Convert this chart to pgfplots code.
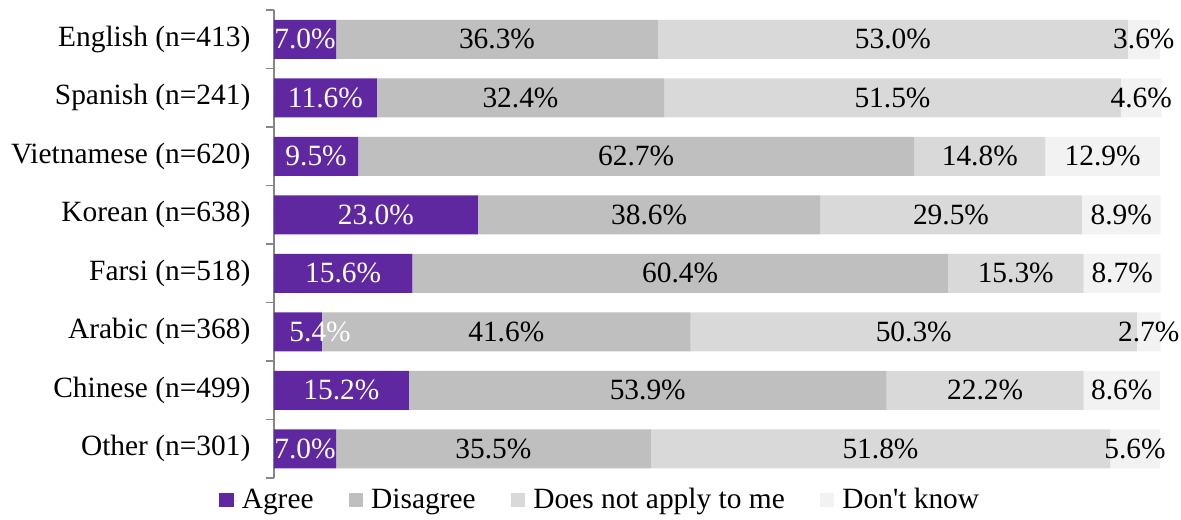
\documentclass[border=0pt]{standalone}
\usepackage{pgfplots}
\pgfplotsset{compat=1.18}
\usepackage{pgfplotstable}
\usepackage{fontspec}
\setmainfont{Liberation Serif}
\definecolor{cAgree}{HTML}{6028A0}
\definecolor{cDis}{HTML}{BFBFBF}
\definecolor{cNA}{HTML}{D9D9D9}
\definecolor{cDK}{HTML}{F2F2F2}
\definecolor{axisgray}{HTML}{868686}
% ap = position of the Agree label
\pgfplotstableread{
y a d n k ap
0 7.0 36.3 53.0 3.6 3.5
1 11.6 32.4 51.5 4.6 5.8
2 9.5 62.7 14.8 12.9 4.75
3 23.0 38.6 29.5 8.9 11.5
4 15.6 60.4 15.3 8.7 7.8
5 5.4 41.6 50.3 2.7 5.2
6 15.2 53.9 22.2 8.6 7.6
7 7.0 35.5 51.8 5.6 3.5
}\datatable
\newcommand{\fs}{\rmfamily\fontsize{14.7}{17}\selectfont}
\begin{document}
\begin{tikzpicture}
\begin{axis}[
  scale only axis, width=443.35pt, height=234pt,
  xbar stacked, bar width=19.5pt,
  xmin=0, xmax=100, ymin=-0.5, ymax=7.5, y dir=reverse,
  axis x line=none, axis y line*=left,
  y axis line style={draw=axisgray, line width=0.75pt},
  ytick={-0.5,0.5,...,7.5},
  y tick label as interval,
  yticklabels={English (n=413),Spanish (n=241),Vietnamese (n=620),Korean (n=638),Farsi (n=518),Arabic (n=368),Chinese (n=499),Other (n=301)},
  major tick length=4pt, tick align=outside,
  ytick style={draw=axisgray, line width=0.75pt},
  yticklabel style={font=\fs, xshift=-4.3pt},
  clip=false,
  legend columns=4,
  legend image code/.code={\fill[#1] (0pt,-3.65pt) rectangle (7.3pt,3.65pt);\path (7.3pt,0pt) -- (9.3pt,0pt);},
  legend style={draw=none, fill=none, font=\fs, at={(0.369,-0.047)}, anchor=center,
    /tikz/every even column/.append style={column sep=15.5pt}},
]
\addplot[fill=cAgree, draw=none] table[x=a, y=y]{\datatable};
\addlegendentry{Agree}
\addplot[fill=cDis, draw=none] table[x=d, y=y]{\datatable};
\addlegendentry{Disagree}
\addplot[fill=cNA, draw=none] table[x=n, y=y]{\datatable};
\addlegendentry{Does not apply to me}
\addplot[fill=cDK, draw=none] table[x=k, y=y]{\datatable};
\addlegendentry{Don\textquotesingle t know}
\path (axis description cs:-0.309,-0.0876) rectangle (axis description cs:1.0229,1.0214);
\end{axis}
\begin{axis}[
  scale only axis, width=443.35pt, height=234pt,
  xmin=0, xmax=100, ymin=-0.5, ymax=7.5, y dir=reverse,
  hide axis, clip=false,
  /pgf/number format/assume math mode=true,
  nodes near coords={\pgfmathprintnumber[fixed,fixed zerofill,precision=1,assume math mode=true]{\pgfplotspointmeta}\%},
  every node near coord/.append style={font=\fs, anchor=center, inner sep=0pt},
]
\addplot[draw=none, mark=none, point meta=explicit, nodes near coords style={text=white}]
  table[x=ap, y=y, meta=a]{\datatable};
\addplot[draw=none, mark=none, point meta=explicit, nodes near coords style={text=black}]
  table[x expr=\thisrow{a}+\thisrow{d}/2, y=y, meta=d]{\datatable};
\addplot[draw=none, mark=none, point meta=explicit, nodes near coords style={text=black}]
  table[x expr=\thisrow{a}+\thisrow{d}+\thisrow{n}/2, y=y, meta=n]{\datatable};
\addplot[draw=none, mark=none, point meta=explicit, nodes near coords style={text=black}]
  table[x expr=\thisrow{a}+\thisrow{d}+\thisrow{n}+\thisrow{k}/2, y=y, meta=k]{\datatable};
\end{axis}
\end{tikzpicture}
\end{document}
